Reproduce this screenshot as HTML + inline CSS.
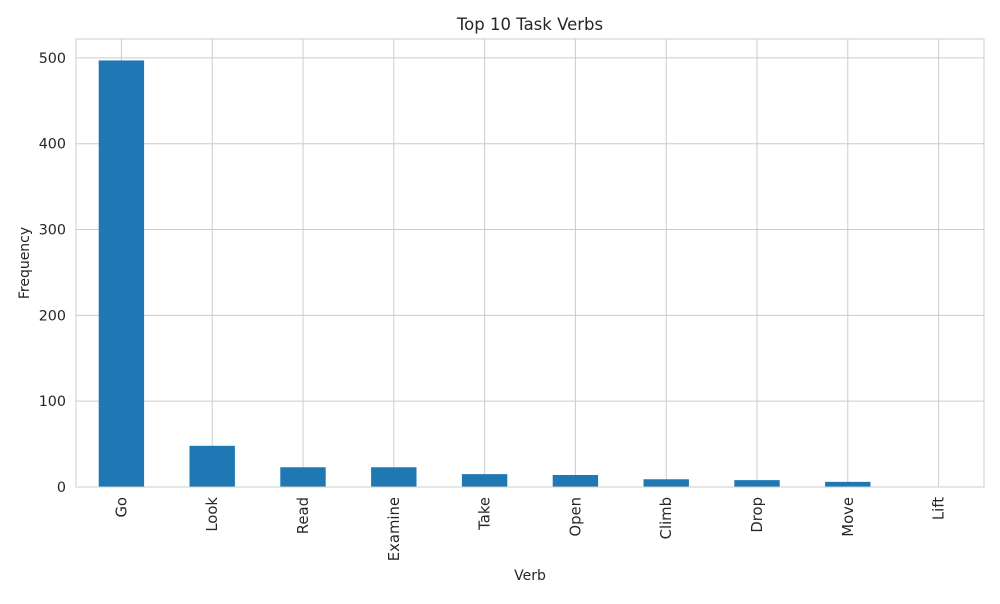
<!DOCTYPE html>
<html><head><meta charset="utf-8"><style>
body{margin:0;background:#fff;font-family:"DejaVu Sans","Liberation Sans",sans-serif;}
</style></head><body>
<svg id="chart" width="1000" height="600" xmlns="http://www.w3.org/2000/svg" font-family="DejaVu Sans, Liberation Sans, sans-serif"></svg>
<script>
const categories=["Go","Look","Read","Examine","Take","Open","Climb","Drop","Move","Lift"];
const values=[497,48,23,23,15,14,9,8,6,0];
const yTicks=[0,100,200,300,400,500];
const svg=document.getElementById('chart');
const NS='http://www.w3.org/2000/svg';
const L=76,R=984,T=39,B=487;
const yMax=522;
const y=v=>B-(v/yMax)*(B-T);
const step=(R-L)/categories.length;
const xc=i=>L+step*(i+0.5);
function mk(tag,attrs,text){const e=document.createElementNS(NS,tag);for(const k in attrs)e.setAttribute(k,attrs[k]);if(text!==undefined)e.textContent=text;svg.appendChild(e);return e;}
yTicks.forEach(t=>{
 const g=mk('line',{x1:L,x2:R,y1:y(t),y2:y(t),stroke:'#cccccc','stroke-width':1});
 
 
 const lb=mk('text',{x:L-10,y:y(t)+5,'text-anchor':'end','font-size':14.3,fill:'#262626'},t);
 
 
});
categories.forEach((c,i)=>{
 const g=mk('line',{x1:xc(i),x2:xc(i),y1:T,y2:B,stroke:'#cccccc','stroke-width':1});
 
 
});
categories.forEach((c,i)=>{
 const w=step*0.5;
 const r=mk('rect',{x:xc(i)-w/2,y:y(values[i]),width:w,height:B-y(values[i]),fill:'#1f77b4'});
 
 
 const lb=mk('text',{x:0,y:0,'text-anchor':'end','font-size':14.8,fill:'#262626',transform:`translate(${xc(i)+5},${B+10}) rotate(-90)`},c);
 
 
});
const fr=mk('rect',{x:L,y:T,width:R-L,height:B-T,fill:'none',stroke:'#cccccc','stroke-width':1});


const ti=mk('text',{x:(L+R)/2,y:30,'text-anchor':'middle','font-size':16.5,fill:'#262626'},'Top 10 Task Verbs');


const xt=mk('text',{x:(L+R)/2,y:580,'text-anchor':'middle','font-size':14,fill:'#262626'},'Verb');


const yt=mk('text',{x:0,y:0,'text-anchor':'middle','font-size':14,fill:'#262626',transform:`translate(29,${(T+B)/2}) rotate(-90)`},'Frequency');


</script>
</body></html>
